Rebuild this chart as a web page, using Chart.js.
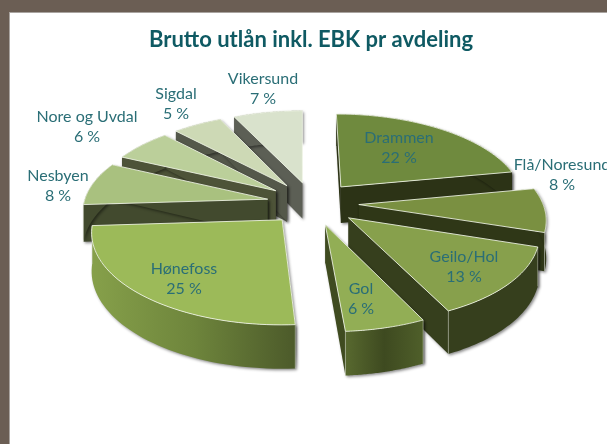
<!DOCTYPE html>
<html lang="no">
<head>
<meta charset="utf-8">
<title>Brutto utlån inkl. EBK pr avdeling</title>
<script src="https://cdn.jsdelivr.net/npm/chart.js@4"></script>
<style>
  html, body { margin: 0; height: 100%; background: #6b5e54; overflow: hidden; }
  #panel { position: absolute; left: 10px; top: 13px; width: 597px; height: 431px; background: #fff; overflow: hidden;
           box-shadow: 0 0 0 1px #a9a4a0; }
  #panel div { position: absolute; left: 0; top: 0; width: 602px; height: 431px; }
</style>
</head>
<body>
<div id="panel"><div><canvas id="pie"></canvas></div></div>
<script>
// Andel brutto utlån pr avdeling
const departments = ['Drammen', 'Flå/Noresund', 'Geilo/Hol', 'Gol', 'Hønefoss', 'Nesbyen', 'Nore og Uvdal', 'Sigdal', 'Vikersund'];
const shares = [22, 8, 13, 6, 25, 8, 6, 5, 7];

// Farger: topp, snittflate, ytterkant (venstre til høyre)
const topColors = ['#6f8a3e', '#7a9041', '#87a04c', '#92ae55', '#9cba59', '#a9c17f', '#bbcf9a', '#cdd9b5', '#d9e2cc'];
const cutColors = ['#2c3316', '#2f3717', '#363f1d', '#3f4b20', '#4e5b2a', '#424a2e', '#4d5338', '#54584a', '#5c5f55'];
const wallColors = [
  ['#2c3316', '#2c3316'], ['#2f3717', '#2f3717'], ['#363f1d', '#363f1d'],
  ['#58692f', '#3e4a20', '#4f5f2a'], ['#86a04a', '#6e853c', '#4c5a2a'],
  ['#424a2e', '#424a2e'], ['#4d5338', '#4d5338'], ['#54584a', '#54584a'], ['#5c5f55', '#5c5f55']
];

// Plassering av etikettene, relativt til kakens midtpunkt
const labelOffsets = [[88, -55], [251, -28], [153, 64], [50, 96], [-127, 76], [-253, -17], [-224, -76], [-135, -99], [-48, -114]];

const tilt = 0.47;      // sammentrykking i y
const camera = 1400;    // perspektiv
const lean = 7;         // forkanten heller litt mot høyre
const thickness = 37;

function project(arc, t, r, drop) {
  const mid = (arc.startAngle + arc.endAngle) / 2;
  const off = arc.options.offset;
  const wx = Math.cos(mid) * off + Math.cos(t) * r;
  const wy = Math.sin(mid) * off + Math.sin(t) * r;
  const s = camera / (camera - wy);
  const depth = (wy + off + arc.outerRadius) / (2 * (off + arc.outerRadius));
  return { x: arc.x + wx * s + lean * depth * depth, y: arc.y + wy * tilt * s + drop * s };
}

function tracePoly(ctx, pts) {
  ctx.beginPath();
  pts.forEach((p, i) => i ? ctx.lineTo(p.x, p.y) : ctx.moveTo(p.x, p.y));
  ctx.closePath();
}

function drawSlice(ctx, arc, i) {
  const R = arc.outerRadius;
  const rim = [];
  for (let n = 0; n <= 48; n++) {
    rim.push(arc.startAngle + (arc.endAngle - arc.startAngle) * n / 48);
  }
  const topRim = rim.map(t => project(arc, t, R, 0));
  const lowRim = rim.map(t => project(arc, t, R, thickness));
  const apex = project(arc, 0, 0, 0);
  const apexLow = project(arc, 0, 0, thickness);

  ctx.save();
  ctx.shadowColor = 'rgba(0,0,0,0.45)';
  ctx.shadowBlur = 3;
  ctx.shadowOffsetX = 1.5;
  ctx.shadowOffsetY = 1.5;

  // snittflater
  ctx.fillStyle = cutColors[i];
  tracePoly(ctx, [apex, topRim[0], lowRim[0], apexLow]);
  ctx.fill();
  tracePoly(ctx, [apex, topRim[48], lowRim[48], apexLow]);
  ctx.fill();

  // ytterkant
  const xs = topRim.map(p => p.x);
  const grad = ctx.createLinearGradient(Math.min(...xs), 0, Math.max(...xs), 0);
  wallColors[i].forEach((c, k, all) => grad.addColorStop(k / (all.length - 1), c));
  ctx.fillStyle = grad;
  tracePoly(ctx, topRim.concat(lowRim.slice().reverse()));
  ctx.fill();
  ctx.restore();

  // lyse kanter og toppflate
  ctx.strokeStyle = 'rgba(240,244,230,0.55)';
  ctx.lineWidth = 0.8;
  [[topRim[0], lowRim[0]], [topRim[48], lowRim[48]]].forEach(seg => {
    if (seg[0].y > arc.y) {
      ctx.beginPath();
      ctx.moveTo(seg[0].x, seg[0].y);
      ctx.lineTo(seg[1].x, seg[1].y);
      ctx.stroke();
    }
  });
  ctx.fillStyle = arc.options.backgroundColor;
  tracePoly(ctx, [apex].concat(topRim));
  ctx.fill();
  ctx.strokeStyle = 'rgba(240,244,230,0.85)';
  ctx.lineWidth = 1;
  ctx.stroke();
}

const pie3d = {
  id: 'pie3d',
  beforeDatasetDraw(chart) {
    const ctx = chart.ctx;
    const arcs = chart.getDatasetMeta(0).data;
    // bakerst først
    const order = arcs.map((a, i) => i).sort((a, b) =>
      Math.sin((arcs[a].startAngle + arcs[a].endAngle) / 2) - Math.sin((arcs[b].startAngle + arcs[b].endAngle) / 2));
    order.forEach(i => drawSlice(ctx, arcs[i], i));
    return false;
  },
  afterDraw(chart) {
    const ctx = chart.ctx;
    const arcs = chart.getDatasetMeta(0).data;
    ctx.save();
    ctx.font = '16px Lato';
    ctx.textAlign = 'center';
    ctx.textBaseline = 'middle';
    ctx.fillStyle = '#2a6e76';
    arcs.forEach((arc, i) => {
      const x = arc.x + labelOffsets[i][0];
      const y = arc.y + labelOffsets[i][1];
      ctx.fillText(departments[i], x, y - 10);
      ctx.fillText(shares[i] + ' %', x, y + 10);
    });
    ctx.restore();
  }
};

new Chart(document.getElementById('pie').getContext('2d'), {
  type: 'pie',
  data: {
    labels: departments,
    datasets: [{ data: shares, backgroundColor: topColors, offset: 46, borderWidth: 0, radius: 184 }]
  },
  options: {
    responsive: true,
    maintainAspectRatio: false,
    animation: false,
    rotation: 0,
    layout: { padding: { bottom: 101 } },
    plugins: {
      legend: { display: false },
      tooltip: { enabled: false },
      title: {
        display: true,
        text: 'Brutto utlån inkl. EBK pr avdeling',
        color: '#0f5a63',
        font: { family: 'Lato', size: 22, weight: 'bold' },
        padding: { top: 14, bottom: 10 }
      }
    }
  },
  plugins: [pie3d]
});
</script>
</body>
</html>
